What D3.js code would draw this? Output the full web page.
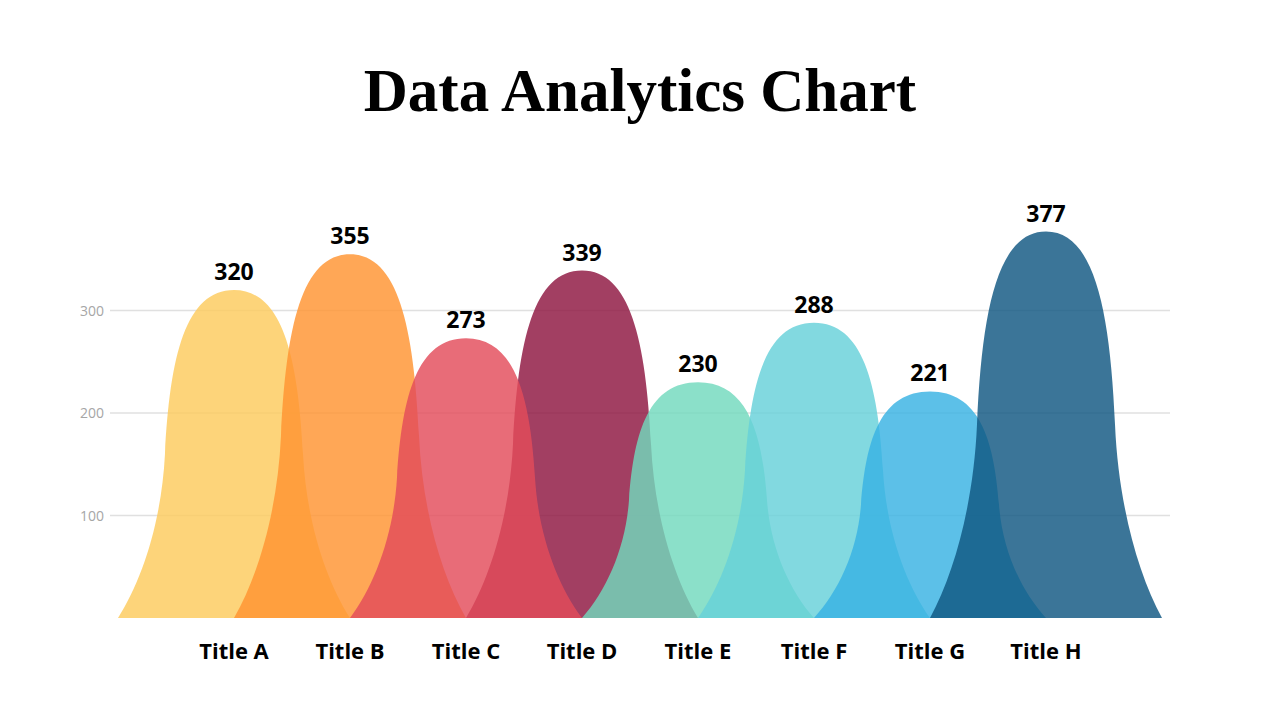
<!DOCTYPE html>
<html>
<head>
<meta charset="utf-8">
<script src="https://cdn.jsdelivr.net/npm/d3@7"></script>
<style>
  body { margin: 0; background: #fff; }
  svg { display: block; }
</style>
</head>
<body>
<svg id="chart"></svg>
<script>
// chart data
const categories = ['Title A', 'Title B', 'Title C', 'Title D', 'Title E', 'Title F', 'Title G', 'Title H'];
const values = [320, 355, 273, 339, 230, 288, 221, 377];
const colors = ['#FDCA5D', '#FF9431', '#E34C5A', '#8E153F', '#71D9BD', '#66D1D9', '#38B2E3', '#105781'];
// D is sent behind C in the original
const drawOrder = [0, 1, 3, 2, 4, 5, 6, 7];
const yTicks = [100, 200, 300];

const width = 1280;
const height = 720;

const svg = d3.select('#chart')
  .attr('width', width)
  .attr('height', height);

// title
svg.append('text')
  .attr('x', width / 2)
  .attr('y', 111)
  .attr('text-anchor', 'middle')
  .style('font-family', '"Liberation Serif", "DejaVu Serif", serif')
  .style('font-weight', 'bold')
  .style('font-size', '61px')
  .attr('fill', '#000')
  .text('Data Analytics Chart');

// scales
const x = d3.scaleBand().domain(categories).range([176, 1104]).padding(0);
const y = d3.scaleLinear().domain([0, 400]).range([618, 208]);

// gridlines + y labels
const grid = svg.append('g');
grid.selectAll('line')
  .data(yTicks)
  .enter()
  .append('line')
  .attr('x1', 110)
  .attr('x2', 1170)
  .attr('y1', d => y(d))
  .attr('y2', d => y(d))
  .attr('stroke', '#e0e0e0')
  .attr('stroke-width', 1.5);

grid.selectAll('text')
  .data(yTicks)
  .enter()
  .append('text')
  .attr('x', 104)
  .attr('y', d => y(d) + 5)
  .attr('text-anchor', 'end')
  .style('font-family', '"Open Sans", sans-serif')
  .style('font-size', '14px')
  .attr('fill', '#a6a6a6')
  .text(d => d);

// peak shape, built from two cubic curves per side
const peakPath = (i) => {
  const cx = x(categories[i]) + x.bandwidth() / 2;
  const w = x.step();
  const base = y(0);
  const h = y(0) - y(values[i]);
  const px = f => cx - w + f * w;
  const qx = f => cx + w - f * w;
  const py = f => base - f * h;
  const p = d3.path();
  p.moveTo(px(0), py(0));
  p.bezierCurveTo(px(0.216), py(0.12), px(0.376), py(0.3), px(0.405), py(0.5));
  p.bezierCurveTo(px(0.448), py(0.8), px(0.586), py(1), px(1), py(1));
  p.bezierCurveTo(qx(0.586), py(1), qx(0.448), py(0.8), qx(0.405), py(0.5));
  p.bezierCurveTo(qx(0.376), py(0.3), qx(0.216), py(0.12), qx(0), py(0));
  p.closePath();
  return p.toString();
};

svg.append('g')
  .selectAll('path')
  .data(drawOrder)
  .enter()
  .append('path')
  .attr('d', i => peakPath(i))
  .attr('fill', i => colors[i])
  .attr('fill-opacity', 0.82);

// value labels
svg.append('g')
  .selectAll('text')
  .data(values)
  .enter()
  .append('text')
  .attr('x', (d, i) => x(categories[i]) + x.bandwidth() / 2)
  .attr('y', d => y(d) - 10)
  .attr('text-anchor', 'middle')
  .style('font-family', '"Open Sans", sans-serif')
  .style('font-weight', 'bold')
  .style('font-size', '23px')
  .attr('fill', '#000')
  .text(d => d);

// category labels
svg.append('g')
  .selectAll('text')
  .data(categories)
  .enter()
  .append('text')
  .attr('x', d => x(d) + x.bandwidth() / 2)
  .attr('y', 659)
  .attr('text-anchor', 'middle')
  .style('font-family', '"Open Sans", sans-serif')
  .style('font-weight', 'bold')
  .style('font-size', '22px')
  .attr('fill', '#000')
  .text(d => d);
</script>
</body>
</html>
